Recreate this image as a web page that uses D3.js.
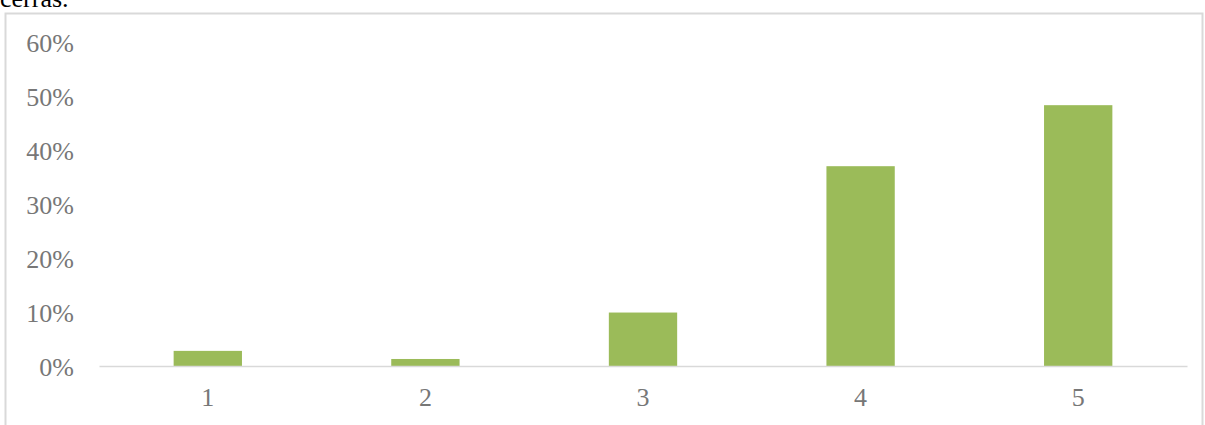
<!DOCTYPE html>
<html>
<head>
<meta charset="utf-8">
<script src="https://cdn.jsdelivr.net/npm/d3@7"></script>
<style>
  html, body { margin: 0; padding: 0; background: #fff; }
  svg { display: block; }
</style>
</head>
<body>
<svg id="chart" width="1205" height="425"></svg>
<script>
const categories = ["1", "2", "3", "4", "5"];
const values = [0.028, 0.013, 0.099, 0.370, 0.483];
const yTicks = [0, 0.1, 0.2, 0.3, 0.4, 0.5, 0.6];
const topText = "cerrás.";

const svg = d3.select("#chart");
const font = "'Liberation Serif', 'DejaVu Serif', serif";

// partly visible text above the frame (as in the reference)
svg.append("text")
  .attr("x", 0).attr("y", 7)
  .attr("font-family", font).attr("font-size", 26)
  .attr("fill", "#000")
  .text(topText);

// chart frame
svg.append("rect")
  .attr("x", 5.5).attr("y", 13.5)
  .attr("width", 1197).attr("height", 440)
  .attr("fill", "#fff")
  .attr("stroke", "#d9d9d9").attr("stroke-width", 2);

const x = d3.scaleBand().domain(categories).range([99, 1187]).paddingInner(0.686).paddingOuter(0.343);
const y = d3.scaleLinear().domain([0, 0.6]).range([366, 42]);

// bars
svg.append("g").selectAll("rect").data(values).join("rect")
  .attr("x", (d, i) => x(categories[i]))
  .attr("width", x.bandwidth())
  .attr("y", d => y(d))
  .attr("height", d => y(0) - y(d))
  .attr("fill", "#9bbb59");

// x axis
const xAxis = svg.append("g").attr("transform", `translate(0,${y(0)})`)
  .call(d3.axisBottom(x).tickSize(0).tickPadding(22));
xAxis.select(".domain").attr("stroke", "#d9d9d9").attr("stroke-width", 1.5);
xAxis.selectAll("text")
  .attr("font-family", font).attr("font-size", 26).attr("fill", "#777");

// y axis
const yAxis = svg.append("g").attr("transform", `translate(74,0)`)
  .call(d3.axisLeft(y).tickValues(yTicks).tickSize(0).tickPadding(0).tickFormat(d3.format(".0%")));
yAxis.select(".domain").remove();
yAxis.selectAll("text")
  .attr("font-family", font).attr("font-size", 26).attr("fill", "#777")
  .attr("dy", "0.35em");
</script>
</body>
</html>
